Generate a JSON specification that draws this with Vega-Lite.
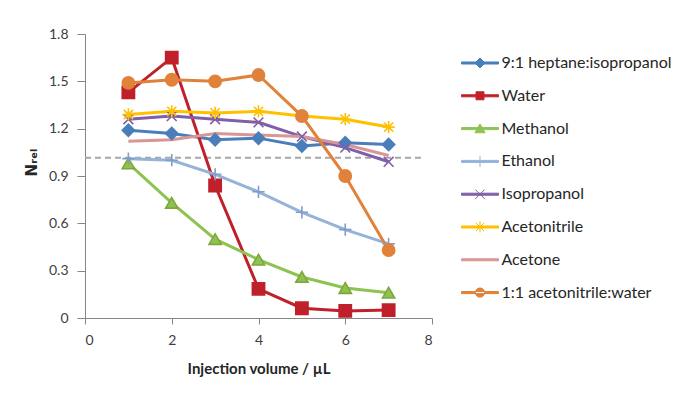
{
  "$schema": "https://vega.github.io/schema/vega-lite/v6.json",
  "width": 347,
  "height": 284,
  "autosize": {"type": "none"},
  "padding": {"left": 85, "top": 34, "right": 261, "bottom": 76},
  "background": "white",
  "config": {
    "view": {"stroke": null},
    "font": "Lato",
    "axis": {"grid": false, "domainColor": "#868686", "tickColor": "#868686", "labelColor": "#404040", "labelFont": "Lato", "labelFontSize": 14, "titleFont": "Lato", "titleColor": "#262626", "titleFontSize": 15, "titleFontWeight": "bold"}
  },
  "datasets": {
    "series": [
      {"s": "9:1 heptane:isopropanol", "x": 1, "y": 1.19},
      {"s": "9:1 heptane:isopropanol", "x": 2, "y": 1.17},
      {"s": "9:1 heptane:isopropanol", "x": 3, "y": 1.13},
      {"s": "9:1 heptane:isopropanol", "x": 4, "y": 1.14},
      {"s": "9:1 heptane:isopropanol", "x": 5, "y": 1.09},
      {"s": "9:1 heptane:isopropanol", "x": 6, "y": 1.11},
      {"s": "9:1 heptane:isopropanol", "x": 7, "y": 1.10},
      {"s": "Water", "x": 1, "y": 1.43},
      {"s": "Water", "x": 2, "y": 1.65},
      {"s": "Water", "x": 3, "y": 0.84},
      {"s": "Water", "x": 4, "y": 0.185},
      {"s": "Water", "x": 5, "y": 0.062},
      {"s": "Water", "x": 6, "y": 0.045},
      {"s": "Water", "x": 7, "y": 0.05},
      {"s": "Methanol", "x": 1, "y": 0.98},
      {"s": "Methanol", "x": 2, "y": 0.73},
      {"s": "Methanol", "x": 3, "y": 0.50},
      {"s": "Methanol", "x": 4, "y": 0.37},
      {"s": "Methanol", "x": 5, "y": 0.26},
      {"s": "Methanol", "x": 6, "y": 0.19},
      {"s": "Methanol", "x": 7, "y": 0.16},
      {"s": "Ethanol", "x": 1, "y": 1.01},
      {"s": "Ethanol", "x": 2, "y": 1.0},
      {"s": "Ethanol", "x": 3, "y": 0.91},
      {"s": "Ethanol", "x": 4, "y": 0.80},
      {"s": "Ethanol", "x": 5, "y": 0.67},
      {"s": "Ethanol", "x": 6, "y": 0.56},
      {"s": "Ethanol", "x": 7, "y": 0.47},
      {"s": "Isopropanol", "x": 1, "y": 1.26},
      {"s": "Isopropanol", "x": 2, "y": 1.28},
      {"s": "Isopropanol", "x": 3, "y": 1.26},
      {"s": "Isopropanol", "x": 4, "y": 1.24},
      {"s": "Isopropanol", "x": 5, "y": 1.15},
      {"s": "Isopropanol", "x": 6, "y": 1.08},
      {"s": "Isopropanol", "x": 7, "y": 0.99},
      {"s": "Acetonitrile", "x": 1, "y": 1.29},
      {"s": "Acetonitrile", "x": 2, "y": 1.31},
      {"s": "Acetonitrile", "x": 3, "y": 1.30},
      {"s": "Acetonitrile", "x": 4, "y": 1.31},
      {"s": "Acetonitrile", "x": 5, "y": 1.28},
      {"s": "Acetonitrile", "x": 6, "y": 1.26},
      {"s": "Acetonitrile", "x": 7, "y": 1.21},
      {"s": "Acetone", "x": 1, "y": 1.12},
      {"s": "Acetone", "x": 2, "y": 1.13},
      {"s": "Acetone", "x": 3, "y": 1.17},
      {"s": "Acetone", "x": 4, "y": 1.16},
      {"s": "Acetone", "x": 5, "y": 1.15},
      {"s": "Acetone", "x": 6, "y": 1.10},
      {"s": "Acetone", "x": 7, "y": 1.03},
      {"s": "1:1 acetonitrile:water", "x": 1, "y": 1.49},
      {"s": "1:1 acetonitrile:water", "x": 2, "y": 1.51},
      {"s": "1:1 acetonitrile:water", "x": 3, "y": 1.50},
      {"s": "1:1 acetonitrile:water", "x": 4, "y": 1.54},
      {"s": "1:1 acetonitrile:water", "x": 5, "y": 1.28},
      {"s": "1:1 acetonitrile:water", "x": 6, "y": 0.90},
      {"s": "1:1 acetonitrile:water", "x": 7, "y": 0.43}
    ],
    "ref": [{"x": 0, "x2": 7.8, "y": 1.015}]
  },
  "layer": [
    {
      "data": {"name": "ref"},
      "mark": {"type": "rule", "color": "#A6A6A6", "strokeWidth": 2, "strokeDash": [6, 4]},
      "encoding": {
        "x": {"field": "x", "type": "quantitative", "scale": {"domain": [0, 8]}},
        "x2": {"field": "x2"},
        "y": {"field": "y", "type": "quantitative", "scale": {"domain": [0, 1.8]}}
      }
    },
    {
      "data": {"name": "series"},
      "mark": {"type": "line", "strokeWidth": 3},
      "encoding": {
        "x": {"field": "x", "type": "quantitative", "scale": {"domain": [0, 8], "nice": false},
          "axis": {"values": [0, 2, 4, 6, 8], "tickSize": 6, "labelPadding": 9, "title": "Injection volume / µL", "titleBaseline": "middle", "titleY": 50}},
        "y": {"field": "y", "type": "quantitative", "scale": {"domain": [0, 1.8], "nice": false},
          "axis": {"values": [0, 0.3, 0.6, 0.9, 1.2, 1.5, 1.8], "format": ".1~f", "tickSize": 8, "labelPadding": 9, "title": "Nᵣₑₗ", "titleFont": "DejaVu Sans", "titleFontSize": 15, "titleX": -46, "titleY": 128, "titleBaseline": "bottom", "titleAngle": 270}},
        "color": {"field": "s", "type": "nominal",
          "scale": {"domain": ["9:1 heptane:isopropanol", "Water", "Methanol", "Ethanol", "Isopropanol", "Acetonitrile", "Acetone", "1:1 acetonitrile:water"],
                    "range": ["#4A7EBB", "#C0202A", "#8DC450", "#95B3D7", "#7F5FA8", "#FFC000", "#D99694", "#E0823A"]},
          "legend": {
            "orient": "none", "legendX": 385, "legendY": 19, "title": null, "padding": 0,
            "symbolSize": 342, "symbolStrokeWidth": 1, "labelFontSize": 16, "labelFont": "Lato", "labelColor": "#262626", "labelLimit": 300,
            "labelOffset": 11.5, "rowPadding": 14.8,
            "encode": {"symbols": {"update": {
              "shape": {"signal": "datum.value==='9:1 heptane:isopropanol' ? 'M-2,-0.11H2V0.11H-2ZM0,-0.54L0.54,0L0,0.54L-0.54,0Z' : datum.value==='Water' ? 'M-2,-0.11H2V0.11H-2ZM-0.43,-0.43H0.43V0.43H-0.43Z' : datum.value==='Methanol' ? 'M-2,-0.11H2V0.11H-2ZM0,-0.5L0.55,0.45H-0.55Z' : datum.value==='Ethanol' ? 'M-2,-0.11H2V0.11H-2ZM0,-0.6V0.6' : datum.value==='Isopropanol' ? 'M-2,-0.11H2V0.11H-2ZM-0.5,-0.5L0.5,0.5M-0.5,0.5L0.5,-0.5' : datum.value==='Acetonitrile' ? 'M-2,-0.11H2V0.11H-2ZM-0.6,0H0.6M0,-0.6V0.6M-0.45,-0.45L0.45,0.45M-0.45,0.45L0.45,-0.45' : datum.value==='Acetone' ? 'M-2,-0.11H2V0.11H-2Z' : 'M-2,-0.11H2V0.11H-2ZM-0.5,0A0.5,0.5,0,1,0,0.5,0A0.5,0.5,0,1,0,-0.5,0Z'"},
              "fill": {"scale": "color", "field": "value"},
              "stroke": {"scale": "color", "field": "value"},
              "opacity": {"value": 1}
            }}}
          }},
        "detail": {"field": "s"}
      }
    },
    {
      "data": {"name": "series"},
      "transform": [{"filter": "datum.s !== 'Acetone'"}],
      "mark": {"type": "point", "filled": true, "opacity": 1, "strokeWidth": 1.6, "size": 150},
      "encoding": {
        "x": {"field": "x", "type": "quantitative"},
        "y": {"field": "y", "type": "quantitative"},
        "color": {"field": "s", "type": "nominal"},
        "stroke": {"field": "s", "type": "nominal", "legend": null,
          "scale": {"domain": ["9:1 heptane:isopropanol", "Water", "Methanol", "Ethanol", "Isopropanol", "Acetonitrile", "Acetone", "1:1 acetonitrile:water"],
                    "range": ["#4A7EBB", "#C0202A", "#7FA53F", "#7F9CCB", "#7F5FA8", "#FFC000", "#D99694", "#E0823A"]}},
        "shape": {"field": "s", "type": "nominal", "legend": null,
          "scale": {"domain": ["9:1 heptane:isopropanol", "Water", "Methanol", "Ethanol", "Isopropanol", "Acetonitrile", "1:1 acetonitrile:water"],
                    "range": ["diamond", "square", "triangle-up", "M-1,0H1M0,-1V1", "M-0.8,-0.8L0.8,0.8M-0.8,0.8L0.8,-0.8", "M-1,0H1M0,-1V1M-0.75,-0.75L0.75,0.75M-0.75,0.75L0.75,-0.75", "circle"]}}
      }
    }
  ]
}
